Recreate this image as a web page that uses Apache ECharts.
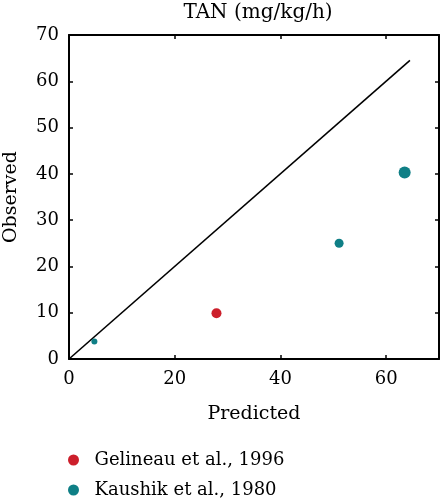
<!DOCTYPE html>
<html>
<head>
<meta charset="utf-8">
<script src="https://cdn.jsdelivr.net/npm/echarts@6/dist/echarts.min.js"></script>
<style>html,body{margin:0;padding:0;background:#fff;}#c{width:441px;height:500px;}</style>
</head>
<body>
<div id="c"></div>
<script>
const titleText = 'TAN (mg/kg/h)';
const xName = 'Predicted';
const yName = 'Observed';
const gelineauName = 'Gelineau et al., 1996';
const kaushikName = 'Kaushik et al., 1980';
const gelineauPoints = [[27.9, 9.9]];
const kaushikPoints = [[4.8, 3.8], [51.1, 25.0], [63.5, 40.3]];
const identityLine = [[0, 0], [64.5, 64.5]];

const FONT = 'DejaVu Serif';
const kaushikSizes = [6, 9, 12];
const chart = echarts.init(document.getElementById('c'));
const common = {
  min: 0, max: 70, interval: 10,
  splitLine: { show: false }
};
const tick = { show: true, inside: true, length: 4, lineStyle: { color: '#000', width: 1.5 } };
const line = { show: true, onZero: false, lineStyle: { color: '#000', width: 2 } };
chart.setOption({
  animation: false,
  backgroundColor: '#fff',
  title: {
    text: titleText, left: 253, top: -2, textAlign: 'center',
    textStyle: { fontFamily: FONT, fontSize: 20, fontWeight: 'normal', color: '#000' }
  },
  grid: { left: 69, right: 2, top: 35, bottom: 141, containLabel: false, outerBoundsMode: 'none' },
  legend: {
    orient: 'vertical', left: 63, top: 444, height: 56,
    icon: 'circle', itemWidth: 32, itemHeight: 11, itemGap: 8,
    data: [gelineauName, kaushikName],
    textStyle: { fontFamily: FONT, fontSize: 18, color: '#000', lineHeight: 22 }
  },
  xAxis: [
    Object.assign({}, common, {
      type: 'value', position: 'bottom', interval: 20,
      name: xName, nameLocation: 'middle', nameGap: 46,
      nameTextStyle: { fontFamily: FONT, fontSize: 19, color: '#000' },
      axisLine: line, axisTick: tick,
      axisLabel: { fontFamily: FONT, fontSize: 18, color: '#000', margin: 11,
        showMaxLabel: false, formatter: v => (v === 70 ? '' : String(v)) }
    }),
    Object.assign({}, common, {
      type: 'value', position: 'top', interval: 20,
      axisLine: line, axisTick: tick,
      axisLabel: { show: false }
    })
  ],
  yAxis: [
    Object.assign({}, common, {
      type: 'value', position: 'left',
      name: yName, nameLocation: 'middle', nameGap: 48,
      nameTextStyle: { fontFamily: FONT, fontSize: 19, color: '#000' },
      axisLine: line, axisTick: tick,
      axisLabel: { fontFamily: FONT, fontSize: 18, color: '#000', margin: 10 }
    }),
    Object.assign({}, common, {
      type: 'value', position: 'right',
      axisLine: line, axisTick: tick,
      axisLabel: { show: false }
    })
  ],
  series: [
    {
      type: 'line', data: identityLine, symbol: 'none', silent: true,
      xAxisIndex: 1, yAxisIndex: 1,
      lineStyle: { color: '#000', width: 1.6 }, z: 1
    },
    {
      name: gelineauName, type: 'scatter', data: gelineauPoints,
      symbolSize: 10, itemStyle: { color: '#cc1f2b', opacity: 1 }, z: 3
    },
    {
      name: kaushikName, type: 'scatter', data: kaushikPoints,
      symbolSize: (v, p) => kaushikSizes[p.dataIndex],
      itemStyle: { color: '#0f7f86', opacity: 1 }, z: 3
    }
  ]
});
</script>
</body>
</html>
